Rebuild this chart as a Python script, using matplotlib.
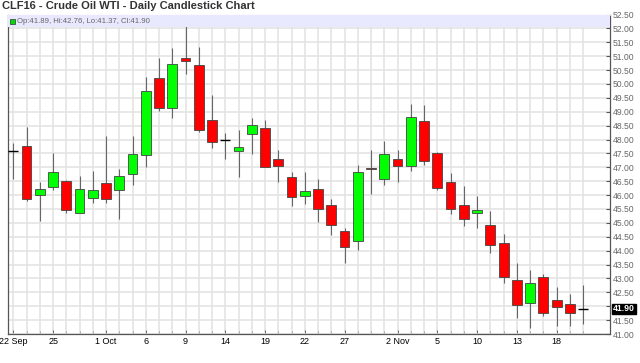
import matplotlib
matplotlib.use("Agg")
import matplotlib.pyplot as plt
from matplotlib.patches import Rectangle
import numpy as np

plt.rcParams['font.family'] = ['Liberation Sans', 'DejaVu Sans']

# ---- data ----
dates = ["22 Sep", "23 Sep", "24 Sep", "25 Sep", "28 Sep", "29 Sep", "30 Sep",
         "1 Oct", "2 Oct", "5 Oct", "6 Oct", "7 Oct", "8 Oct", "9 Oct", "12 Oct",
         "13 Oct", "14 Oct", "15 Oct", "16 Oct", "19 Oct", "20 Oct", "21 Oct",
         "22 Oct", "23 Oct", "26 Oct", "27 Oct", "28 Oct", "29 Oct", "30 Oct",
         "2 Nov", "3 Nov", "4 Nov", "5 Nov", "6 Nov", "9 Nov", "10 Nov", "11 Nov",
         "12 Nov", "13 Nov", "16 Nov", "17 Nov", "18 Nov", "19 Nov", "20 Nov"]
opens = [47.60, 47.77, 46.00, 46.29, 46.50, 45.37, 45.88, 46.45, 46.18, 46.77,
         47.46, 50.20, 49.15, 50.92, 50.69, 48.69, 47.97, 47.59, 48.21, 48.40,
         47.31, 46.65, 45.98, 46.21, 45.65, 44.71, 44.33, 46.99, 46.59, 47.29,
         47.06, 48.67, 47.52, 46.46, 45.66, 45.37, 44.94, 44.27, 42.94, 42.12,
         43.04, 42.22, 42.07, 41.89]
highs = [47.89, 48.45, 46.48, 47.50, 46.54, 46.69, 46.85, 48.13, 46.93, 48.13,
         50.25, 50.92, 51.29, 52.08, 51.34, 49.59, 48.25, 48.34, 48.76, 48.69,
         47.62, 46.83, 46.83, 46.57, 45.87, 44.83, 47.09, 47.62, 47.94, 47.62,
         49.27, 49.23, 47.55, 46.78, 46.33, 45.97, 45.43, 44.59, 43.57, 43.30,
         43.15, 42.69, 42.43, 42.76]
lows = [46.57, 45.79, 45.07, 46.18, 45.35, 45.37, 45.73, 45.73, 45.13, 46.36,
        47.01, 49.03, 48.79, 50.35, 48.27, 47.71, 47.29, 46.65, 47.49, 47.00,
        46.48, 45.60, 45.67, 45.04, 44.55, 43.55, 44.01, 46.05, 46.36, 46.47,
        46.87, 47.09, 46.18, 45.31, 44.89, 44.83, 43.93, 42.85, 41.57, 41.23,
        41.65, 41.28, 41.28, 41.37]
closes = [47.60, 45.85, 46.21, 46.83, 45.47, 46.21, 46.18, 45.85, 46.68, 47.49,
          49.75, 49.15, 50.71, 50.82, 48.33, 47.92, 47.97, 47.73, 48.51, 47.00,
          47.04, 45.94, 46.14, 45.50, 44.94, 44.13, 46.84, 46.93, 47.49, 47.05,
          48.82, 47.23, 46.26, 45.50, 45.14, 45.47, 44.22, 43.04, 42.04, 42.82,
          41.74, 41.96, 41.74, 41.90]
tick_days = ["22 Sep", "25 Sep", "1 Oct", "6 Oct", "9 Oct", "14 Oct", "19 Oct",
             "22 Oct", "27 Oct", "2 Nov", "5 Nov", "10 Nov", "13 Nov", "18 Nov"]
tick_labels = ["22 Sep", "25", "1 Oct", "6", "9", "14", "19", "22", "27",
               "2 Nov", "5", "10", "13", "18"]
title = "CLF16 - Crude Oil WTI - Daily Candlestick Chart"

# ---- figure ----
W, H = 640, 363
fig = plt.figure(figsize=(W / 100, H / 100), dpi=100)
fig.patch.set_facecolor('white')
AW, AH = 610 - 7.5, 334 - 14.5
ax = fig.add_axes([7.5 / W, 1 - 334 / H, AW / W, AH / H])

x = np.arange(len(dates))
o = np.array(opens); h = np.array(highs); l = np.array(lows); c = np.array(closes)
width = 0.74

doji = np.abs(c - o) <= 0.02
up = (c > o) & ~doji
dn = (c < o) & ~doji

ax.vlines(x, l, h, color='#666666', linewidth=0.8, zorder=3)
for mask, col in ((up, '#00ff00'), (dn, '#ff0000')):
    bot = np.minimum(o, c)[mask]
    hgt = np.maximum(np.abs(c - o)[mask], 0.05)
    ax.bar(x[mask], hgt, width, bottom=bot, color=col, edgecolor='#444444',
           linewidth=0.6, zorder=4)
ax.hlines(c[doji], x[doji] - width / 2, x[doji] + width / 2, color='black',
          linewidth=1.0, zorder=4)

ax.set_xlim(-0.44, 45.03)
ax.set_ylim(41.0, 52.5)

# grid / ticks
last = closes[-1]
yt = np.arange(41.0, 52.51, 0.5)
ax.set_yticks(yt)
ax.set_yticklabels(["" if abs(v - last) < 0.25 else f"{v:.2f}" for v in yt])
ax.set_xticks(x, minor=True)
ax.set_xticks([dates.index(d) for d in tick_days])
ax.set_xticklabels(tick_labels)
ax.grid(True, which='both', color='#e2e2e2', linewidth=1.1, zorder=0)
ax.set_axisbelow(True)

ax.yaxis.tick_right()
ax.tick_params(axis='y', which='major', direction='in', length=3, width=0.8,
               color='#555555', labelsize=6.2, labelcolor='#666666', pad=2)
ax.tick_params(axis='x', which='major', direction='in', length=3, width=0.6,
               color='#555555', labelsize=6.5, labelcolor='black', pad=2.5)
ax.tick_params(axis='x', which='minor', direction='in', length=2, width=0.5,
               color='#888888')
for s in ('left', 'bottom', 'right'):
    ax.spines[s].set_color('#555555')
    ax.spines[s].set_linewidth(0.9)
ax.spines['top'].set_color('#cccccc')
ax.spines['top'].set_linewidth(0.8)

# info bar
ax.add_patch(Rectangle((0, 1 - 12.5 / AH), 1, 12.5 / AH, transform=ax.transAxes,
                       facecolor='#e8e8ff', edgecolor='none', zorder=5))
ax.add_patch(Rectangle((2.5 / AW, 1 - 9.5 / AH), 5 / AW, 5 / AH,
                       transform=ax.transAxes, facecolor='#00dd00',
                       edgecolor='#333333', linewidth=0.5, zorder=6))
ax.text(9.5 / AW, 1 - 6.8 / AH,
        f"Op:{opens[-1]:.2f}, Hi:{highs[-1]:.2f}, Lo:{lows[-1]:.2f}, Cl:{closes[-1]:.2f}",
        transform=ax.transAxes, fontsize=5.6, color='#666666', va='center',
        ha='left', zorder=6)

# last price label
ax.annotate(f"{last:.2f}", xy=(1, last), xycoords=('axes fraction', 'data'),
            xytext=(2, 0), textcoords='offset points', fontsize=6.2,
            color='white', fontweight='bold', va='center', ha='left',
            bbox=dict(boxstyle='square,pad=0.1', facecolor='black',
                      edgecolor='black'), zorder=10, annotation_clip=False)

fig.text(2 / W, 1 - 6 / H, title, fontsize=8, fontweight='bold',
         color='#333333', va='center', ha='left')

fig.savefig("out.png", dpi=100)
